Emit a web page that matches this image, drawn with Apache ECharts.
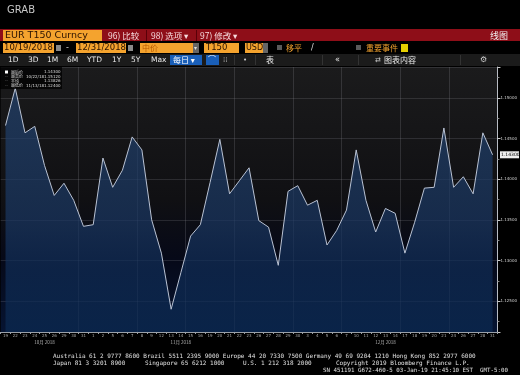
<!DOCTYPE html>
<html><head><meta charset="utf-8">
<script src="https://cdn.jsdelivr.net/npm/echarts@6/dist/echarts.min.js"></script>
<style>html,body{margin:0;padding:0;background:#000;}#c{width:520px;height:375px;}</style>
</head><body><div id="c"></div>
<script>
// ---- data (EUR T150 Curncy, Tokyo 3pm fix, daily) ----
const dates = [
 '2018-10-19','2018-10-22','2018-10-23','2018-10-24','2018-10-25','2018-10-26','2018-10-29','2018-10-30','2018-10-31',
 '2018-11-01','2018-11-02','2018-11-05','2018-11-06','2018-11-07','2018-11-08','2018-11-09','2018-11-12','2018-11-13',
 '2018-11-14','2018-11-15','2018-11-16','2018-11-19','2018-11-20','2018-11-21','2018-11-22','2018-11-23','2018-11-26',
 '2018-11-27','2018-11-28','2018-11-29','2018-11-30',
 '2018-12-03','2018-12-04','2018-12-05','2018-12-06','2018-12-07','2018-12-10','2018-12-11','2018-12-12','2018-12-13',
 '2018-12-14','2018-12-17','2018-12-18','2018-12-19','2018-12-20','2018-12-21','2018-12-24','2018-12-26','2018-12-27',
 '2018-12-28','2018-12-31'];
const values = [
 1.1466,1.1512,1.1457,1.1465,1.1417,1.1380,1.1395,1.1374,1.1342,
 1.1344,1.1426,1.1390,1.1411,1.1452,1.1436,1.1350,1.1309,1.1240,1.1285,1.1330,1.1344,1.1396,1.1449,1.1382,1.1398,1.1414,1.1349,1.1341,1.1294,1.1385,1.1392,
 1.1368,1.1374,1.1319,1.1337,1.1362,1.1436,1.1374,1.1335,1.1364,1.1358,1.1309,1.1347,1.1389,1.1390,1.1463,1.1390,1.1403,1.1382,1.1457,1.1430];
const monthLabels = {4:'10月 2018', 18:'11月 2018', 39:'12月 2018'};
const yMin = 1.1212, yMax = 1.1538;
const footer1 = 'Australia 61 2 9777 8600 Brazil 5511 2395 9000 Europe 44 20 7330 7500 Germany 49 69 9204 1210 Hong Kong 852 2977 6000';
const footer2 = ['Japan 81 3 3201 8900','Singapore 65 6212 1000','U.S. 1 212 318 2000','Copyright 2019 Bloomberg Finance L.P.'];
const footer3 = 'SN 451191 G672-460-5 03-Jan-19 21:45:10 EST  GMT-5:00';

// ---- derived stats ----
const last = values[values.length-1];
let hi = -Infinity, lo = Infinity, hiI = 0, loI = 0, sum = 0;
values.forEach((v,i)=>{ sum+=v; if(v>hi){hi=v;hiI=i;} if(v<lo){lo=v;loI=i;} });
const avg = sum/values.length;
const fmtDate = d => { const p=d.split('-'); return p[1]+'/'+p[2]+'/'+p[0].slice(2); };
const dayLabels = dates.map(d => String(parseInt(d.split('-')[2],10)));

const F = 'DejaVu Sans, Noto Sans CJK SC, sans-serif';
const CJK = 'Noto Sans CJK SC, DejaVu Sans, sans-serif';
const MONO = 'DejaVu Sans Mono, monospace';
const ORANGE = '#f4a32e';
function txt(x,y,s,o){ return Object.assign({type:'text',x:x,y:y,style:Object.assign({text:s,fill:'#e8e8e8',font:'8px '+F,textVerticalAlign:'middle'},o||{}) ,z:10}); }
function rect(x,y,w,h,fill,z){ return {type:'rect',shape:{x:x,y:y,width:w,height:h},style:{fill:fill},z:z||5}; }

const graphics = [
  txt(7,10,'GRAB',{font:'10px '+F,fill:'#c8c8c8'}),
  // red title bar
  rect(0,29,520,12,'#8e0e18'),
  rect(3,30,99,11,ORANGE),
  txt(5,35.5,'EUR T150 Curncy',{font:'9.5px '+F,fill:'#2a1200'}),
  txt(108,35.5,'96) 比较',{font:'8.5px '+CJK,fill:'#f6dadd'}),
  rect(146,30,1,11,'#5a0008'),
  txt(151,35.5,'98) 选项 ▾',{font:'8.5px '+CJK,fill:'#f6dadd'}),
  rect(196,30,1,11,'#5a0008'),
  txt(200,35.5,'97) 修改 ▾',{font:'8.5px '+CJK,fill:'#f6dadd'}),
  txt(490,35.5,'线图',{font:'9px '+CJK,fill:'#f2f2f2'}),
  // row 2
  rect(3,43,51,10,ORANGE), txt(4,48,'10/19/2018',{font:'8.5px '+F,fill:'#2a1200'}),
  rect(56,45,5,6,'#8a8a8a'),
  txt(66,48,'-',{font:'8px '+F,fill:'#ddd'}),
  rect(76,43,50,10,ORANGE), txt(77,48,'12/31/2018',{font:'8.5px '+F,fill:'#2a1200'}),
  rect(128,45,5,6,'#8a8a8a'),
  rect(140,43,53,10,ORANGE), txt(142,48,'中价',{font:'8px '+CJK,fill:'#b85a00'}),
  rect(193,43,6,10,'#666'), txt(194,48,'▾',{font:'6px '+F,fill:'#ddd'}),
  rect(204,43,35,10,ORANGE), txt(206,48,'T150',{font:'8.5px '+F,fill:'#2a1200'}),
  rect(245,43,18,10,ORANGE), txt(246,48,'USD',{font:'8px '+F,fill:'#2a1200'}),
  rect(263,43,5,10,'#666'),
  rect(277,45,5,5,'#5a5a5a'),
  txt(286,48,'移平',{font:'8px '+CJK,fill:ORANGE}),
  txt(311,48,'/',{font:'8px '+F,fill:'#ddd'}),
  rect(356,45,5,5,'#5a5a5a'),
  txt(366,48,'重要事件',{font:'8px '+CJK,fill:ORANGE}),
  rect(401,44,7,8,'#e6cf00'),
  // row 3 toolbar
  rect(0,54,520,12,'#1b1b1b'),
  txt(8,60,'1D',{font:'7.5px '+F}), txt(28,60,'3D',{font:'7.5px '+F}), txt(47,60,'1M',{font:'7.5px '+F}),
  txt(67,60,'6M',{font:'7.5px '+F}), txt(87,60,'YTD',{font:'7.5px '+F}), txt(112,60,'1Y',{font:'7.5px '+F}),
  txt(131,60,'5Y',{font:'7.5px '+F}), txt(151,60,'Max',{font:'7.5px '+F}),
  rect(170,55,32,10,'#1a5fb8'), txt(173,60,'每日 ▾',{font:'8px '+CJK,fill:'#fff'}),
  rect(206,55,13,10,'#1a5fb8'), txt(208,60,'⌒',{font:'8px '+F,fill:'#fff'}),
  txt(223,60,'⁞⁞',{font:'7px '+F,fill:'#aaa'}),
  rect(234,55,1,10,'#333'),
  txt(243,60,'•',{font:'7px '+F,fill:'#ccc'}),
  rect(255,55,1,10,'#333'),
  txt(266,60,'表',{font:'8px '+CJK}),
  rect(322,55,1,10,'#333'),
  txt(335,60,'«',{font:'8px '+F}),
  rect(358,55,1,10,'#333'),
  txt(375,60,'⇄',{font:'7px '+F,fill:'#ccc'}),
  txt(384,60,'图表内容',{font:'8px '+CJK}),
  rect(460,55,1,10,'#333'),
  txt(480,60,'⚙',{font:'8px '+F,fill:'#ccc'}),
  // stats box in plot
  rect(0,67,62,22,'rgba(0,0,0,0.75)',8),
  rect(5,70.5,3,3,'#ffffff',10),
  txt(11,72,'最后价',{font:'4px '+CJK,fill:'#ddd'}), txt(44,72,last.toFixed(5),{font:'4px '+F,fill:'#ddd'}),
  txt(5,76.5,'--',{font:'4px '+F,fill:'#999'}), txt(11,76.5,'最高价',{font:'4px '+CJK,fill:'#ddd'}),
  txt(26,76.5,fmtDate(dates[hiI]),{font:'4px '+F,fill:'#ddd'}), txt(44,76.5,hi.toFixed(5),{font:'4px '+F,fill:'#ddd'}),
  txt(5,81,'--',{font:'4px '+F,fill:'#999'}), txt(11,81,'平均',{font:'4px '+CJK,fill:'#ddd'}),
  txt(44,81,avg.toFixed(5),{font:'4px '+F,fill:'#ddd'}),
  txt(5,85.5,'--',{font:'4px '+F,fill:'#999'}), txt(11,85.5,'最低价',{font:'4px '+CJK,fill:'#ddd'}),
  txt(26,85.5,fmtDate(dates[loI]),{font:'4px '+F,fill:'#ddd'}), txt(44,85.5,lo.toFixed(5),{font:'4px '+F,fill:'#ddd'}),
  // footer
  txt(53,356.5,footer1,{font:'6px '+MONO,fill:'#e0e0e0'}),
  txt(53,363.5,footer2[0],{font:'6px '+MONO,fill:'#e0e0e0'}),
  txt(145,363.5,footer2[1],{font:'6px '+MONO,fill:'#e0e0e0'}),
  txt(243,363.5,footer2[2],{font:'6px '+MONO,fill:'#e0e0e0'}),
  txt(336,363.5,footer2[3],{font:'6px '+MONO,fill:'#e0e0e0'}),
  txt(323,370.5,footer3,{font:'5.8px '+MONO,fill:'#e0e0e0'})
];

const vLineIdx = [8,14,19,24,30,35,41,46];
const chart = echarts.init(document.getElementById('c'), null, {renderer:'canvas'});
chart.setOption({
  backgroundColor:'#000',
  animation:false,
  graphic: graphics,
  grid:{left:0,right:21,top:67,bottom:43,show:true,borderWidth:0,
    backgroundColor:new echarts.graphic.LinearGradient(0,0,0,1,[
      {offset:0,color:'#1b1b1c'},{offset:0.5,color:'#101013'},{offset:0.72,color:'#060918'},{offset:1,color:'#061432'}])},
  xAxis:[{
    type:'category', data:dates, boundaryGap:true,
    axisLine:{lineStyle:{color:'#9aa0a8',width:1}},
    axisTick:{show:true,length:2,lineStyle:{color:'#9aa0a8'}},
    axisLabel:{formatter:(v,i)=>dayLabels[i], interval:0, fontSize:4, color:'#a8a8a8', margin:2, fontFamily:F},
    splitLine:{show:true, interval:(i)=>vLineIdx.indexOf(i)>=0, lineStyle:{color:'rgba(150,150,160,0.22)',width:1}}
  },{
    type:'category', data:dates, boundaryGap:true, position:'bottom', offset:6,
    axisLine:{show:false}, axisTick:{show:false}, splitLine:{show:false},
    axisLabel:{interval:0, formatter:(v,i)=>monthLabels[i]||'', fontSize:4.5, color:'#b0b0b0', margin:2, fontFamily:CJK}
  }],
  yAxis:{
    type:'value', position:'right', min:yMin, max:yMax, splitNumber:5, scale:true,
    axisLine:{show:true,lineStyle:{color:'#b8bcc4',width:1}},
    axisTick:{show:true,length:3,lineStyle:{color:'#c8c8c8'}},
    minorTick:{show:true,splitNumber:2,length:2,lineStyle:{color:'#888'}},
    axisLabel:{formatter:v=>v.toFixed(5), fontSize:4, color:'#d0d0d0', margin:3, showMinLabel:false, showMaxLabel:false, fontFamily:F},
    splitLine:{show:true, lineStyle:{color:'rgba(150,150,160,0.2)',width:1}}
  },
  series:[{
    type:'line', data:values, symbol:'none', smooth:false,
    lineStyle:{color:'#b9c2d3',width:1},
    areaStyle:{color:new echarts.graphic.LinearGradient(0,0,0,1,[
      {offset:0,color:'#23436f'},{offset:0.55,color:'#1a3762'},{offset:0.75,color:'#102d57'},{offset:1,color:'#0b2a52'}])}
  }]
});
// current-value tag on the right axis, positioned through the axis scale
const yLast = chart.convertToPixel({yAxisIndex:0}, last);
chart.setOption({graphic: graphics.concat([
  {type:'rect', shape:{x:500, y:yLast-3.5, width:19, height:7}, style:{fill:'#eeeeee'}, z:20},
  {type:'text', x:501, y:yLast, style:{text:last.toFixed(5), fill:'#000', font:'4.5px '+F, textVerticalAlign:'middle'}, z:21}
])});
</script></body></html>
